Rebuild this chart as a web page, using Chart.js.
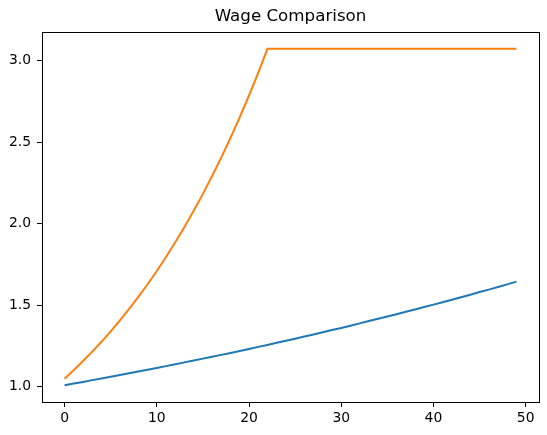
<!DOCTYPE html>
<html>
<head>
<meta charset="utf-8">
<script src="https://cdn.jsdelivr.net/npm/chart.js@4/dist/chart.umd.min.js"></script>
<style>
  html, body { margin: 0; padding: 0; background: #fff; }
  #wrap { width: 547px; height: 435px; }
</style>
</head>
<body>
<div id="wrap"><canvas id="myChart" width="547" height="435"></canvas></div>
<script>
// periods (years)
var periodos = [0,1,2,3,4,5,6,7,8,9,10,11,12,13,14,15,16,17,18,19,20,21,22,23,24,
                25,26,27,28,29,30,31,32,33,34,35,36,37,38,39,40,41,42,43,44,45,46,47,48,49];

// slow growth wage
var salarioA = [1.010,1.020,1.030,1.041,1.051,1.062,1.072,1.083,1.094,1.105,
                1.116,1.127,1.138,1.150,1.161,1.173,1.184,1.196,1.208,1.220,
                1.232,1.245,1.257,1.270,1.282,1.295,1.308,1.321,1.335,1.348,
                1.361,1.375,1.389,1.403,1.417,1.431,1.445,1.460,1.474,1.489,
                1.504,1.519,1.534,1.549,1.565,1.581,1.596,1.612,1.628,1.645];

// fast growth wage, capped
var salarioB = [1.050,1.103,1.158,1.216,1.276,1.340,1.407,1.478,1.551,1.629,
                1.710,1.796,1.886,1.980,2.079,2.183,2.292,2.407,2.527,2.653,
                2.786,2.925,3.072,3.072,3.072,3.072,3.072,3.072,3.072,3.072,
                3.072,3.072,3.072,3.072,3.072,3.072,3.072,3.072,3.072,3.072,
                3.072,3.072,3.072,3.072,3.072,3.072,3.072,3.072,3.072,3.072];

var ticksX = [0, 10, 20, 30, 40, 50];
var ticksY = [1.0, 1.5, 2.0, 2.5, 3.0];

var fuente = "'DejaVu Sans', sans-serif";

function puntos(valores) {
    return periodos.map(function (p, i) { return { x: p, y: valores[i] }; });
}

// box around the axes, like matplotlib spines
var marco = {
    id: 'marco',
    afterDraw: function (chart) {
        var a = chart.chartArea;
        var ctx = chart.ctx;
        ctx.save();
        ctx.strokeStyle = '#000';
        ctx.lineWidth = 1;
        ctx.strokeRect(Math.round(a.left) + 0.5, Math.round(a.top) + 0.5,
                       Math.round(a.right - a.left), Math.round(a.bottom - a.top));
        ctx.restore();
    }
};

var ctx = document.getElementById('myChart').getContext('2d');
var chart = new Chart(ctx, {
    type: 'line',
    data: {
        datasets: [{
            label: 'A',
            data: puntos(salarioA),
            borderColor: '#1f77b4',
            borderWidth: 2,
            pointRadius: 0,
            tension: 0,
            fill: false
        }, {
            label: 'B',
            data: puntos(salarioB),
            borderColor: '#ff7f0e',
            borderWidth: 2,
            pointRadius: 0,
            tension: 0,
            fill: false
        }]
    },
    options: {
        responsive: false,
        animation: false,
        layout: { padding: { left: 0, right: 8, top: 0, bottom: 0 } },
        plugins: {
            legend: { display: false },
            tooltip: { enabled: false },
            title: {
                display: true,
                fullSize: false,
                text: 'Wage Comparison',
                color: '#000',
                font: { family: fuente, size: 16.7, weight: 'normal' },
                padding: { top: 7, bottom: 5 }
            }
        },
        scales: {
            x: {
                type: 'linear',
                min: -2.45,
                max: 51.45,
                afterBuildTicks: function (s) { s.ticks = ticksX.map(function (v) { return { value: v }; }); },
                afterFit: function (s) { s.height = 33; },
                grid: { drawOnChartArea: false, drawTicks: true, tickLength: 5, tickColor: '#000', tickWidth: 1 },
                border: { display: true, color: '#000', width: 1 },
                ticks: { color: '#000', font: { family: fuente, size: 13.9 }, padding: 3, maxRotation: 0 }
            },
            y: {
                type: 'linear',
                min: 0.907,
                max: 3.175,
                afterBuildTicks: function (s) { s.ticks = ticksY.map(function (v) { return { value: v }; }); },
                afterFit: function (s) { s.width = 42; },
                grid: { drawOnChartArea: false, drawTicks: true, tickLength: 5, tickColor: '#000', tickWidth: 1 },
                border: { display: true, color: '#000', width: 1 },
                ticks: {
                    color: '#000', font: { family: fuente, size: 13.9 }, padding: 6,
                    callback: function (v) { return Number(v).toFixed(1); }
                }
            }
        }
    },
    plugins: [marco]
});
</script>
</body>
</html>
